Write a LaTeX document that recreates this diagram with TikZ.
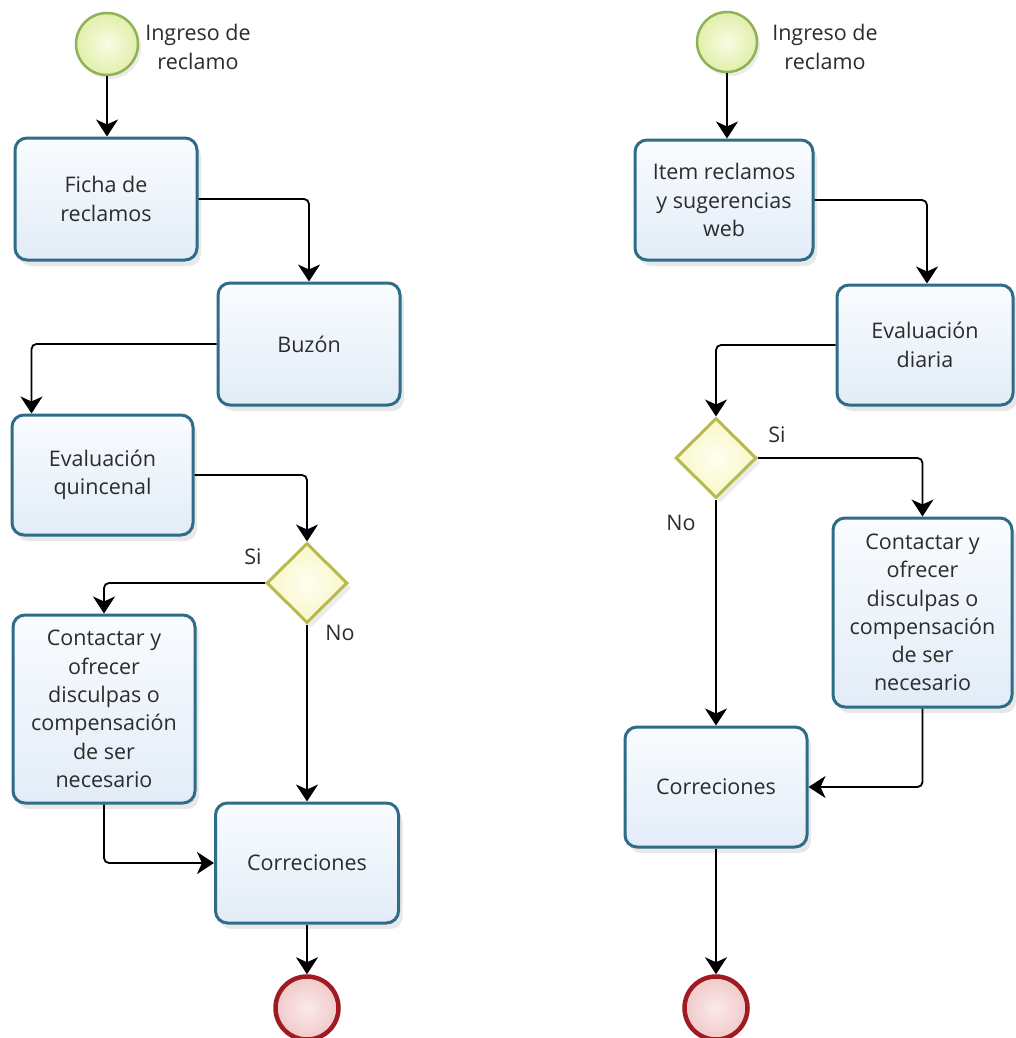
\documentclass[tikz,border=0pt]{standalone}
\usepackage{fontspec}
\setmainfont{Open Sans}
\usetikzlibrary{shapes.geometric,arrows.meta,shadows,calc}
\definecolor{boxline}{HTML}{2E6C87}
\definecolor{boxtop}{HTML}{F9FCFF}
\definecolor{boxbot}{HTML}{E2ECF7}
\definecolor{startline}{HTML}{8FB257}
\definecolor{startin}{HTML}{F9FCE4}
\definecolor{startout}{HTML}{E1EFAA}
\definecolor{endline}{HTML}{A11A22}
\definecolor{endin}{HTML}{FBEAEA}
\definecolor{endout}{HTML}{F0C9C9}
\definecolor{gwline}{HTML}{B7BA4C}
\definecolor{gwin}{HTML}{FFFFF0}
\definecolor{gwout}{HTML}{F7F6C8}
\definecolor{txt}{HTML}{2C2C2C}
\tikzset{
  x=1pt, y=-1pt,
  bfont/.style={font=\fontsize{21.5}{28.3}\selectfont, text=txt},
  task/.style={bfont, rectangle, rounded corners=12pt, draw=boxline, line width=3pt,
    top color=boxtop, bottom color=boxbot, align=center, inner sep=2pt,
    drop shadow={opacity=0.18, shadow xshift=4pt, shadow yshift=-6pt}},
  startev/.style={circle, draw=startline, line width=2.5pt, inner color=startin, outer color=startout,
    minimum size=#1, inner sep=0pt, drop shadow={opacity=0.15, shadow xshift=3pt, shadow yshift=-4pt}},
  endev/.style={circle, draw=endline, line width=4.5pt, inner color=endin, outer color=endout,
    minimum size=#1, inner sep=0pt},
  gateway/.style={diamond, draw=gwline, line width=3pt, inner color=gwin, outer color=gwout,
    minimum width=81pt, minimum height=80pt, inner sep=0pt,
    drop shadow={opacity=0.15, shadow xshift=4pt, shadow yshift=-5pt}},
  lbl/.style={bfont, align=center, inner sep=0pt},
  flow/.style={line width=1.8pt, draw=black, rounded corners=5pt,
    -{Stealth[length=17pt, width=22pt, inset=5pt]}}
}
\begin{document}
\begin{tikzpicture}
\useasboundingbox[fill=white] (0,0) rectangle (1015,1038);

% ---------------- left process ----------------
\node[startev=62pt] (sL) at (107,44) {};
\node[lbl] (sLlab) at (198,47) {Ingreso de\\reclamo};
\node[task, minimum width=182pt, minimum height=122pt] (ficha) at (106,199) {Ficha de\\reclamos};
\node[task, minimum width=182pt, minimum height=122pt] (buzon) at (309,344) {Buzón};
\node[task, minimum width=181pt, minimum height=120pt] (evalQ) at (102.5,475) {Evaluación\\quincenal};
\node[gateway] (dL) at (307,583) {};
\node[lbl] (siL) at (253,557) {Si};
\node[lbl] (noL) at (340,633) {No};
\node[task, minimum width=182pt, minimum height=188pt] (contL) at (104,709) {Contactar y\\ofrecer\\disculpas o\\compensación\\de ser\\necesario};
\node[task, minimum width=183pt, minimum height=120pt] (corrL) at (307,863) {Correciones};
\node[endev=63pt] (eL) at (307,1008) {};

\draw[flow] (sL.south) -- (ficha.north -| sL.south);
\draw[flow] (ficha.east) -| (buzon.north);
\draw[flow] (buzon.west) -| ([xshift=21pt]evalQ.north west);
\draw[flow] (evalQ.east) -| (dL.north);
\draw[flow] (dL.west) -| (contL.north);
\draw[flow] (dL.south) -- (corrL.north);
\draw[flow] (contL.south) |- (corrL.west);
\draw[flow] (corrL.south) -- (eL.north);

% ---------------- right process ----------------
\node[startev=60pt] (sR) at (727,42) {};
\node[lbl] (sRlab) at (825,47) {Ingreso de\\reclamo};
\node[task, minimum width=178pt, minimum height=120pt] (item) at (724,200) {Item reclamos\\y sugerencias\\web};
\node[task, minimum width=176pt, minimum height=120pt] (evalD) at (925,345) {Evaluación\\diaria};
\node[gateway] (dR) at (716,458) {};
\node[lbl] (siR) at (777,435) {Si};
\node[lbl] (noR) at (681,523) {No};
\node[task, minimum width=179pt, minimum height=189pt] (contR) at (922.5,612.5) {Contactar y\\ofrecer\\disculpas o\\compensación\\de ser\\necesario};
\node[task, minimum width=182pt, minimum height=120pt] (corrR) at (716,787) {Correciones};
\node[endev=63pt] (eR) at (716,1008) {};

\draw[flow] (sR.south) -- (item.north -| sR.south);
\draw[flow] (item.east) -| ([xshift=2pt]evalD.north);
\draw[flow] (evalD.west) -| (dR.north);
\draw[flow] (dR.east) -| (contR.north);
\draw[flow] (dR.south) -- (corrR.north);
\draw[flow] (contR.south) |- (corrR.east);
\draw[flow] (corrR.south) -- (eR.north);
\end{tikzpicture}
\end{document}
